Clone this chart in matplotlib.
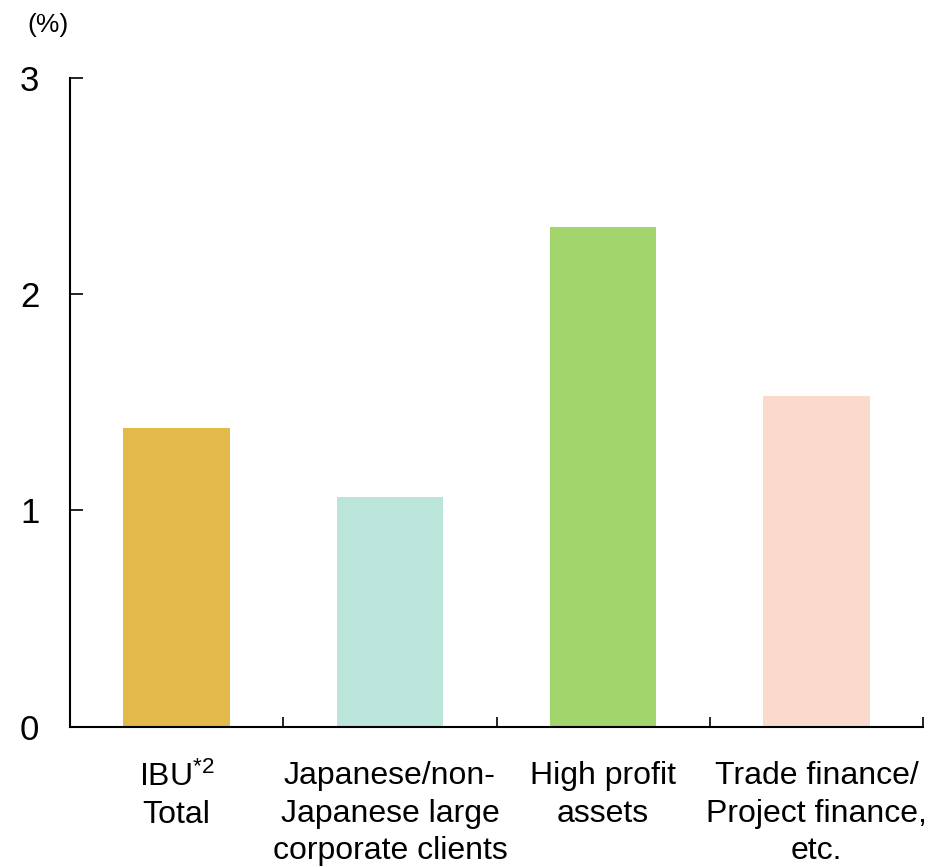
import numpy as np
import matplotlib.pyplot as plt

plt.rcParams['font.family'] = ['Liberation Sans', 'DejaVu Sans']
plt.rcParams['mathtext.fontset'] = 'custom'
plt.rcParams['mathtext.rm'] = 'Liberation Sans'
plt.rcParams['mathtext.it'] = 'Liberation Sans'

categories = ['IBU$^{*2}$\nTotal',
              'Japanese/non-\nJapanese large\ncorporate clients',
              'High profit\nassets',
              'Trade finance/\nProject finance,\netc.']
values = [1.38, 1.06, 2.31, 1.53]
colors = ['#E3BA4A', '#BBE4DA', '#A1D46A', '#FCDACB']

fig = plt.figure(figsize=(9.47, 8.67), dpi=100)
ax = fig.add_axes([70 / 947, (867 - 726.5) / 867, 853 / 947, 649 / 867])

x = np.arange(len(values))
ax.bar(x, values, width=0.5, color=colors, zorder=2)

ax.set_xlim(-0.5, len(values) - 0.5)
ax.set_ylim(0, 3)

ax.spines['top'].set_visible(False)
ax.spines['right'].set_visible(False)
for s in ['left', 'bottom']:
    ax.spines[s].set_linewidth(1.5)

# category boundaries get the tick marks, labels sit under the bars
ax.set_xticks(np.arange(len(values)) + 0.5)
ax.set_xticklabels([])
ax.tick_params(axis='x', which='major', direction='in', length=7, width=1.2)
ax.set_xticks(x, minor=True)
ax.set_xticklabels(categories, minor=True, fontsize=23, linespacing=1.32)
ax.tick_params(axis='x', which='minor', length=0, pad=25)

ax.set_yticks([0, 1, 2, 3])
ax.tick_params(axis='y', direction='in', length=9, width=1.2, labelsize=25, pad=22)

fig.text(48 / 947, 1 - 25 / 867, '(%)', fontsize=19, ha='center', va='center')

fig.savefig('out.png', dpi=100)
